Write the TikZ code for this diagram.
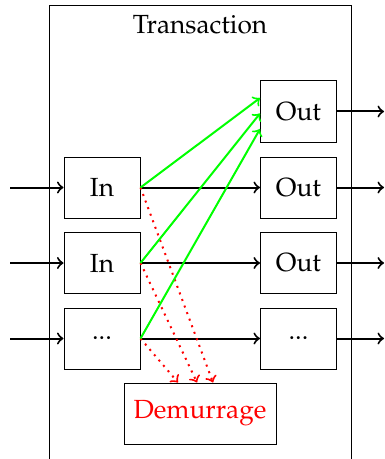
\documentclass[tikz,border=0pt]{standalone}
\usepackage[T1]{fontenc}
\usepackage{mathpazo}
\usetikzlibrary{positioning}

\tikzset{
	box/.style={draw, minimum width=30.4pt, minimum height=24.4pt, inner sep=0pt},
	fee/.style={draw, text=red, minimum width=60.8pt, minimum height=24.4pt, inner sep=0pt},
	flow/.style={->, thick},
	spend/.style={->, thick, green},
	burn/.style={->, thick, red, dotted}
}

\begin{document}
\begin{tikzpicture}[x=0.4pt, y=-0.4pt, >=to, font=\fontsize{10.5pt}{12.6pt}\selectfont]
	
	\useasboundingbox (0,0) rectangle (385,459);
	\clip (0,0) rectangle (385,459);
	
	% Transaction frame
	\draw (49,6) rectangle (351,480);
	\node (title) at (200,25) {Transaction};
	
	% Outputs
	\node[box] (out1) at (298.5,111.5) {Out};
	\node[box] (out2) at (298.5,187.5) {Out};
	\node[box] (out3) at (298.5,263) {Out};
	\node[box] (out4) at (298.5,338.5) {...};
	
	% Inputs
	\node[box] (in1) at (102,187.5) {In};
	\node[box] (in2) at (102,263) {In};
	\node[box] (in3) at (102,338.5) {...};
	
	\node[fee] (dem) at (200,413.5) {Demurrage};
	
	% Arrows into and out of the transaction
	\foreach \i/\j/\y in {1/2/187.5, 2/3/263, 3/4/338.5} {
		\coordinate (src\i) at (10,\y);
		\draw[flow] (src\i) -- (in\i);
		\draw[flow] (in\i.east) -- (out\j.west);
	}
	\foreach \j/\y in {1/111.5, 2/187.5, 3/263, 4/338.5} {
		\coordinate (dst\j) at (384,\y);
		\draw[flow] (out\j) -- (dst\j);
	}
	
	% Demurrage taken from each input
	\draw[burn] (in1.east) -- ([xshift=5.2pt]dem.north);
	\draw[burn] (in2.east) -- ([xshift=-1.2pt]dem.north);
	\draw[burn] (in3.east) -- ([xshift=-8.8pt]dem.north);
	
	% Inputs spent into the first output
	\draw[spend] (in1.east) -- ([yshift=5.4pt]out1.west);
	\draw[spend] (in2.east) -- ([yshift=-0.8pt]out1.west);
	\draw[spend] (in3.east) -- ([yshift=-7pt]out1.west);
	
\end{tikzpicture}
\end{document}
